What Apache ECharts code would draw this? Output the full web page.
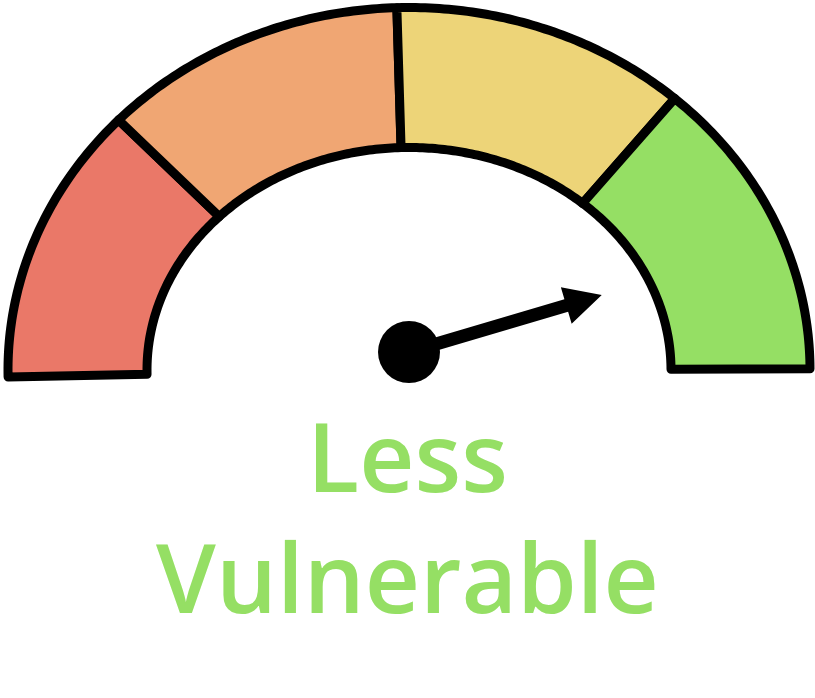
<!DOCTYPE html>
<html>
<head>
<meta charset="utf-8">
<script src="https://cdn.jsdelivr.net/npm/echarts@6/dist/echarts.min.js"></script>
<style>
  html, body { margin: 0; padding: 0; background: #ffffff; }
  #chart { width: 815px; height: 698px; }
</style>
</head>
<body>
<div id="chart"></div>
<script>
// ---- data ----
const segmentNames = ['Most Vulnerable', 'More Vulnerable', 'Moderately Vulnerable', 'Less Vulnerable'];
const segmentValues = [24.7, 24.7, 23.9, 26.7];      // share of the 0–100 scale
const segmentColors = ['#EA7868', '#F0A673', '#EDD478', '#95DF64'];
const needleValue = [91];                            // reading on the 0–100 scale
const labelLines = ['Less', 'Vulnerable'];

// ---- layout ----
const START_ANGLE = 181.1;
const SWEEP = 180.9;
const scaleTotal = segmentValues.reduce((a, b) => a + b, 0);
const RING = { outerA: 401, outerB: 362.5, innerA: 262, innerB: 222.5 };

// cumulative [start, end] for each segment, on the 0–100 scale
let acc = 0;
const segmentData = segmentValues.map((v, i) => {
  const item = { name: segmentNames[i], value: [acc, acc + v] };
  acc += v;
  return item;
});

function renderSegment(params, api) {
  const v0 = api.value(0);
  const v1 = api.value(1);
  const c = api.coord([0, 0]);
  const steps = 64;
  function onRing(v, a, b) {
    const p = api.coord([1, v]);
    const dx = p[0] - c[0], dy = c[1] - p[1];
    const len = Math.hypot(dx, dy) || 1;
    return [c[0] + a * dx / len, c[1] - b * dy / len];
  }
  const pts = [];
  for (let i = 0; i <= steps; i++) {
    pts.push(onRing(v0 + (v1 - v0) * i / steps, RING.outerA, RING.outerB));
  }
  for (let i = steps; i >= 0; i--) {
    pts.push(onRing(v0 + (v1 - v0) * i / steps, RING.innerA, RING.innerB));
  }
  return {
    type: 'polygon',
    shape: { points: pts },
    style: {
      fill: segmentColors[params.dataIndex],
      stroke: '#000000',
      lineWidth: 9,
      lineJoin: 'round'
    }
  };
}

const chart = echarts.init(document.getElementById('chart'), null, { renderer: 'canvas' });
chart.setOption({
  backgroundColor: '#ffffff',
  animation: false,
  title: {
    text: labelLines.join('\n'),
    left: 'center',
    top: 399,
    textStyle: {
      fontFamily: 'Open Sans',
      fontWeight: 600,
      fontSize: 96,
      lineHeight: 121,
      color: '#95DF64'
    }
  },
  polar: { center: [409, 370], radius: 401 },
  angleAxis: {
    type: 'value',
    show: false,
    min: 0,
    max: scaleTotal * 360 / SWEEP,
    startAngle: START_ANGLE,
    clockwise: true
  },
  radiusAxis: { type: 'value', show: false, min: 0, max: 1 },
  series: [
    {
      type: 'custom',
      coordinateSystem: 'polar',
      silent: true,
      renderItem: renderSegment,
      data: segmentData
    },
    {
      type: 'gauge',
      center: [409, 352],
      radius: 201,
      startAngle: START_ANGLE,
      endAngle: START_ANGLE - SWEEP,
      min: 0,
      max: scaleTotal,
      silent: true,
      axisLine: { show: false },
      splitLine: { show: false },
      axisTick: { show: false },
      axisLabel: { show: false },
      progress: { show: false },
      title: { show: false },
      detail: { show: false },
      pointer: {
        icon: 'path://M19 0 L38 37 L25.5 37 L25.5 201 L12.5 201 L12.5 37 L0 37 Z',
        length: 201,
        width: 38,
        itemStyle: { color: '#000000' }
      },
      anchor: {
        show: true,
        showAbove: true,
        size: 62,
        itemStyle: { color: '#000000' }
      },
      data: needleValue.map(v => ({ value: v }))
    }
  ]
});
</script>
</body>
</html>
